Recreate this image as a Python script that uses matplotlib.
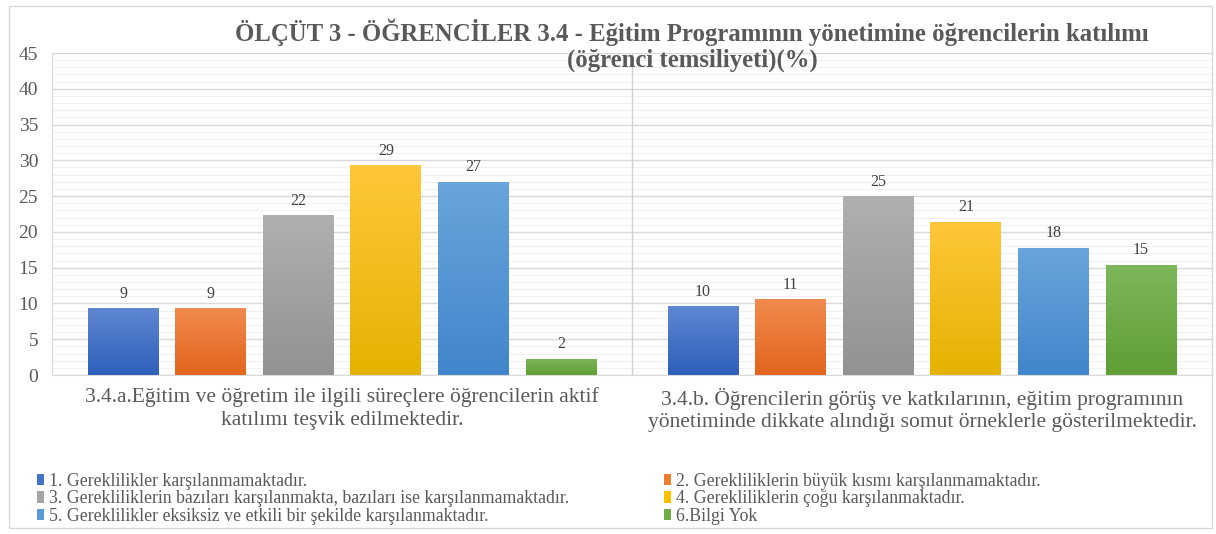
import numpy as np
import matplotlib.pyplot as plt
from matplotlib.colors import LinearSegmentedColormap
from matplotlib.patches import Rectangle, Patch

plt.rcParams['font.family'] = ['Liberation Serif', 'DejaVu Serif']

categories = [
    '3.4.a.Eğitim ve öğretim ile ilgili süreçlere öğrencilerin aktif\nkatılımı teşvik edilmektedir.',
    '3.4.b. Öğrencilerin görüş ve katkılarının, eğitim programının\nyönetiminde dikkate alındığı somut örneklerle gösterilmektedir.',
]
series_names = [
    '1. Gereklilikler karşılanmamaktadır.',
    '2. Gerekliliklerin büyük kısmı karşılanmamaktadır.',
    '3. Gerekliliklerin bazıları karşılanmakta, bazıları ise karşılanmamaktadır.',
    '4. Gerekliliklerin çoğu karşılanmaktadır.',
    '5. Gereklilikler eksiksiz ve etkili bir şekilde karşılanmaktadır.',
    '6.Bilgi Yok',
]
values_a = [9.3, 9.3, 22.3, 29.3, 27.0, 2.3]
values_b = [9.6, 10.6, 25.0, 21.4, 17.8, 15.4]

# (top colour, bottom colour) of each series gradient
colors = [
    ('#5f87d2', '#2e5fba'),
    ('#f18a4e', '#e2651c'),
    ('#b0b0b0', '#929292'),
    ('#ffc73a', '#e6b200'),
    ('#6aa5dc', '#4186cb'),
    ('#7db75a', '#5e9e34'),
]
legend_colors = ['#4472c4', '#ed7d31', '#a5a5a5', '#ffc000', '#5b9bd5', '#70ad47']

fig = plt.figure(figsize=(12.16, 5.34), dpi=100)
fig.patches.append(Rectangle((9 / 1216, 6 / 534), 1203 / 1216, 522 / 534,
                             transform=fig.transFigure, fill=False,
                             edgecolor='#d9d9d9', linewidth=1))
ax = fig.add_axes([52 / 1216, 1 - 375 / 534, 1160 / 1216, 322 / 534])

x = np.array([0.5, 1.5])
step = 0.151
width = 0.122
text_col = '#595959'
grad = np.linspace(0, 1, 256).reshape(-1, 1)

for i, name in enumerate(series_names):
    vals = [values_a[i], values_b[i]]
    bars = ax.bar(x + (i - 2.5) * step, vals, width, color='none', zorder=2)
    cmap = LinearSegmentedColormap.from_list('g%d' % i, [colors[i][0], colors[i][1]])
    for b, v in zip(bars, vals):
        im = ax.imshow(grad, cmap=cmap, aspect='auto', origin='upper',
                       extent=[b.get_x(), b.get_x() + b.get_width(), 0, b.get_height()],
                       zorder=2)
        im.set_clip_path(b)
        ax.text(b.get_x() + b.get_width() / 2, v + 0.9, f'{v:.0f}',
                ha='center', va='bottom', fontsize=11.5, color='#404040')

ax.set_xlim(0, 2)
ax.set_ylim(0, 45)
ax.set_yticks(range(0, 46, 5))
ax.set_yticks(range(0, 46, 1), minor=True)
ax.grid(axis='y', which='major', color='#d9d9d9', linewidth=1, zorder=0)
ax.grid(axis='y', which='minor', color='#f0f0f0', linewidth=0.8, zorder=0)
ax.axvline(1, color='#d0d0d0', linewidth=1, zorder=1)
ax.set_axisbelow(True)
ax.set_xticks(x)
ax.set_xticklabels(categories, fontsize=15.5, color=text_col, linespacing=1.25)
ax.tick_params(axis='x', length=0, pad=9)
ax.tick_params(axis='y', which='both', length=0, labelsize=14, labelcolor=text_col, pad=10)
for s in ['top', 'right']:
    ax.spines[s].set_visible(False)
ax.spines['left'].set_color('#d9d9d9')
ax.spines['bottom'].set_color('#d9d9d9')

fig.text(692 / 1216, 1 - 45 / 534,
         'ÖLÇÜT 3 - ÖĞRENCİLER 3.4 - Eğitim Programının yönetimine öğrencilerin katılımı\n(öğrenci temsiliyeti)(%)',
         ha='center', va='center', fontsize=17.8, fontweight='bold', color=text_col,
         linespacing=1.15)

handles = [Patch(facecolor=c, edgecolor='none') for c in legend_colors]
for col, idx in ((37, [0, 2, 4]), (664, [1, 3, 5])):
    fig.legend([handles[k] for k in idx], [series_names[k] for k in idx],
               loc='upper left', bbox_to_anchor=(col / 1216, 1 - 473 / 534),
               frameon=False, fontsize=12.8, labelcolor=text_col,
               handlelength=0.4, handleheight=0.6, handletextpad=0.3,
               labelspacing=0.02, borderpad=0, borderaxespad=0)

fig.savefig('out.png', dpi=100)
